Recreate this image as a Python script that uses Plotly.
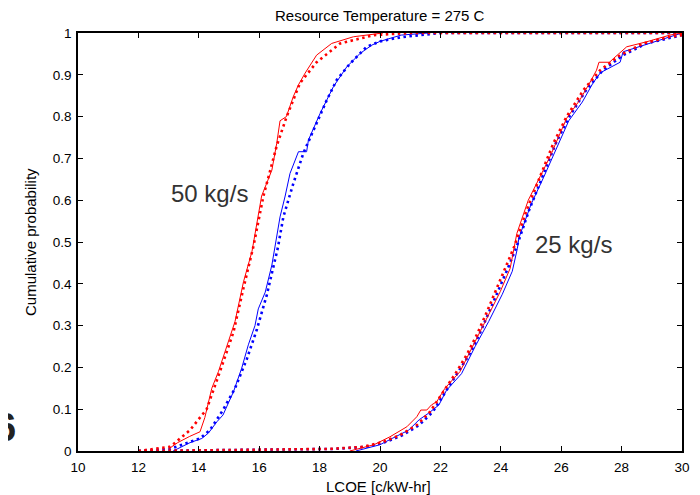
import plotly.graph_objects as go

# ---- data ----
# 50 kg/s, red fitted (dotted)
r50_fit_x = [12.0, 13.05, 13.71, 14.26, 14.7, 15.15, 15.48, 15.81, 16.14, 16.58, 16.91, 17.35, 17.9, 18.68, 19.8, 21.0, 30.0]
r50_fit_y = [0.0, 0.01, 0.05, 0.10, 0.19, 0.285, 0.39, 0.49, 0.61, 0.73, 0.80, 0.88, 0.93, 0.975, 0.995, 1.0, 1.0]
# 50 kg/s, red empirical (solid)
r50_emp_x = [13.0, 13.3, 13.7, 14.04, 14.2, 14.43, 14.65, 14.93, 15.2, 15.48, 15.76, 16.08, 16.42, 16.58, 16.69, 16.9, 17.13, 17.3, 17.52, 17.9, 18.4, 19.12, 20.1]
r50_emp_y = [0.005, 0.02, 0.035, 0.046, 0.08, 0.15, 0.19, 0.25, 0.31, 0.405, 0.477, 0.61, 0.672, 0.736, 0.79, 0.80, 0.848, 0.876, 0.904, 0.947, 0.975, 0.991, 1.0]
# 50 kg/s, blue fitted (dotted)
b50_fit_x = [12.0, 13.05, 14.04, 14.37, 14.8, 15.2, 15.59, 15.92, 16.25, 16.62, 16.8, 17.13, 17.46, 17.8, 18.24, 18.57, 19.01, 19.56, 20.0, 20.7, 22.0, 30.0]
b50_fit_y = [0.0, 0.005, 0.03, 0.05, 0.098, 0.15, 0.22, 0.29, 0.373, 0.487, 0.56, 0.64, 0.712, 0.768, 0.84, 0.888, 0.927, 0.967, 0.98, 0.99, 1.0, 1.0]
# 50 kg/s, blue empirical (solid)
b50_emp_x = [13.15, 13.71, 14.1, 14.32, 14.6, 14.8, 15.15, 15.42, 15.64, 15.86, 15.97, 16.2, 16.42, 16.53, 16.69, 16.86, 17.02, 17.3, 17.57, 17.63, 18.02, 18.46, 18.9, 19.34, 19.73, 20.0, 20.7, 21.6]
b50_emp_y = [0.0, 0.02, 0.03, 0.043, 0.07, 0.086, 0.142, 0.198, 0.254, 0.30, 0.34, 0.38, 0.445, 0.49, 0.56, 0.61, 0.664, 0.716, 0.716, 0.744, 0.808, 0.872, 0.919, 0.951, 0.971, 0.98, 0.995, 1.0]

# 25 kg/s, red fitted (dotted)
r25_fit_x = [12.0, 18.35, 19.45, 20.11, 20.66, 21.22, 21.66, 22.1, 22.54, 22.87, 23.2, 23.54, 23.87, 24.2, 24.45, 24.86, 25.3, 25.74, 26.18, 26.74, 27.29, 27.95, 28.72, 29.6, 30.0]
r25_fit_y = [0.0, 0.005, 0.01, 0.022, 0.038, 0.062, 0.094, 0.142, 0.19, 0.23, 0.277, 0.333, 0.389, 0.445, 0.49, 0.577, 0.656, 0.736, 0.80, 0.864, 0.911, 0.947, 0.975, 0.991, 0.995]
# 25 kg/s, red empirical (solid)
r25_emp_x = [19.0, 19.8, 20.33, 20.89, 21.22, 21.35, 21.55, 21.7, 21.88, 22.15, 22.65, 23.09, 23.54, 23.98, 24.31, 24.47, 24.53, 24.91, 25.36, 25.63, 26.18, 26.62, 27.0, 27.17, 27.25, 27.6, 27.73, 28.17, 28.83, 29.6, 30.0]
r25_emp_y = [0.0, 0.015, 0.034, 0.058, 0.082, 0.098, 0.098, 0.11, 0.118, 0.15, 0.19, 0.254, 0.317, 0.381, 0.437, 0.493, 0.52, 0.60, 0.664, 0.704, 0.796, 0.84, 0.888, 0.911, 0.93, 0.93, 0.939, 0.967, 0.979, 0.995, 1.0]
# 25 kg/s, blue fitted (dotted)
b25_fit_x = [12.0, 18.5, 19.55, 20.2, 20.75, 21.3, 21.75, 22.18, 22.62, 22.95, 23.28, 23.62, 23.95, 24.28, 24.53, 24.94, 25.38, 25.82, 26.27, 26.83, 27.38, 28.05, 28.82, 29.7, 30.0]
b25_fit_y = [0.0, 0.005, 0.01, 0.022, 0.038, 0.062, 0.094, 0.142, 0.19, 0.23, 0.277, 0.333, 0.389, 0.445, 0.49, 0.577, 0.656, 0.736, 0.80, 0.864, 0.911, 0.947, 0.975, 0.991, 0.995]
# 25 kg/s, blue empirical (solid)
b25_emp_x = [19.2, 20.0, 20.4, 20.95, 21.3, 21.6, 21.95, 22.2, 22.7, 23.15, 23.6, 24.05, 24.38, 24.55, 24.6, 25.0, 25.42, 25.7, 26.25, 26.7, 27.05, 27.3, 27.95, 28.05, 28.9, 29.6, 30.0]
b25_emp_y = [0.0, 0.015, 0.03, 0.05, 0.075, 0.09, 0.11, 0.145, 0.185, 0.25, 0.31, 0.375, 0.43, 0.485, 0.51, 0.59, 0.655, 0.70, 0.79, 0.835, 0.88, 0.905, 0.93, 0.955, 0.975, 0.99, 1.0]

x_ticks = [10, 12, 14, 16, 18, 20, 22, 24, 26, 28, 30]
y_ticks = [0, 0.1, 0.2, 0.3, 0.4, 0.5, 0.6, 0.7, 0.8, 0.9, 1]
y_tick_text = ["0", "0.1", "0.2", "0.3", "0.4", "0.5", "0.6", "0.7", "0.8", "0.9", "1"]

title_text = "Resource Temperature = 275 C"
x_title = "LCOE [c/kW-hr]"
y_title = "Cumulative probability"
label_50 = "50 kg/s"
label_25 = "25 kg/s"

RED = "#ff0000"
BLUE = "#0000ff"
DOT = "2.5px,3.5px"
FONT = "Liberation Sans, Arial"

fig = go.Figure()

def add(x, y, color, dotted):
    fig.add_trace(go.Scatter(
        x=x, y=y, mode="lines", showlegend=False, hoverinfo="skip",
        line=dict(color=color, width=2.6 if dotted else 1.0,
                  dash=DOT if dotted else "solid"),
    ))

add(b25_emp_x, b25_emp_y, BLUE, False)
add(b50_emp_x, b50_emp_y, BLUE, False)
add(b25_fit_x, b25_fit_y, BLUE, True)
add(b50_fit_x, b50_fit_y, BLUE, True)
add(r25_emp_x, r25_emp_y, RED, False)
add(r50_emp_x, r50_emp_y, RED, False)
add(r25_fit_x, r25_fit_y, RED, True)
add(r50_fit_x, r50_fit_y, RED, True)

axis_common = dict(
    showgrid=False, zeroline=False, showline=True, linecolor="black",
    linewidth=1.5, mirror="ticks", ticks="inside", ticklen=5,
    tickcolor="black", tickwidth=1, automargin=False,
    tickfont=dict(family=FONT, size=13.5, color="black"),
)

fig.update_layout(
    width=700, height=495,
    margin=dict(l=70, r=26, t=25, b=52),
    paper_bgcolor="white", plot_bgcolor="white",
    xaxis=dict(range=[10, 30], tickvals=x_ticks, ticklabelstandoff=3, **axis_common),
    yaxis=dict(range=[0, 1], tickvals=y_ticks, ticktext=y_tick_text, ticklabelstandoff=2, **axis_common),
    annotations=[
        dict(x=0.5, y=1.043, xref="paper", yref="paper", text=title_text, showarrow=False,
             xanchor="center", yanchor="middle",
             font=dict(family=FONT, size=15, color="black")),
        dict(x=0.498, y=-0.086, xref="paper", yref="paper", text=x_title, showarrow=False,
             xanchor="center", yanchor="middle",
             font=dict(family=FONT, size=15, color="black")),
        dict(x=-0.0795, y=0.5, xref="paper", yref="paper", text=y_title, showarrow=False,
             xanchor="center", yanchor="middle",
             textangle=-90, font=dict(family=FONT, size=15, color="black")),
        dict(x=14.37, y=0.617, xref="x", yref="y", text=label_50, showarrow=False,
             font=dict(family=FONT, size=24, color="#333333")),
        dict(x=26.42, y=0.493, xref="x", yref="y", text=label_25, showarrow=False,
             font=dict(family=FONT, size=24, color="#333333")),
        dict(x=-0.0987, y=0.001, xref="paper", yref="paper", text="<b>6</b>",
             showarrow=False, xanchor="right",
             font=dict(family=FONT, size=40, color="#222222")),
    ],
)

fig.write_html("out.html")
